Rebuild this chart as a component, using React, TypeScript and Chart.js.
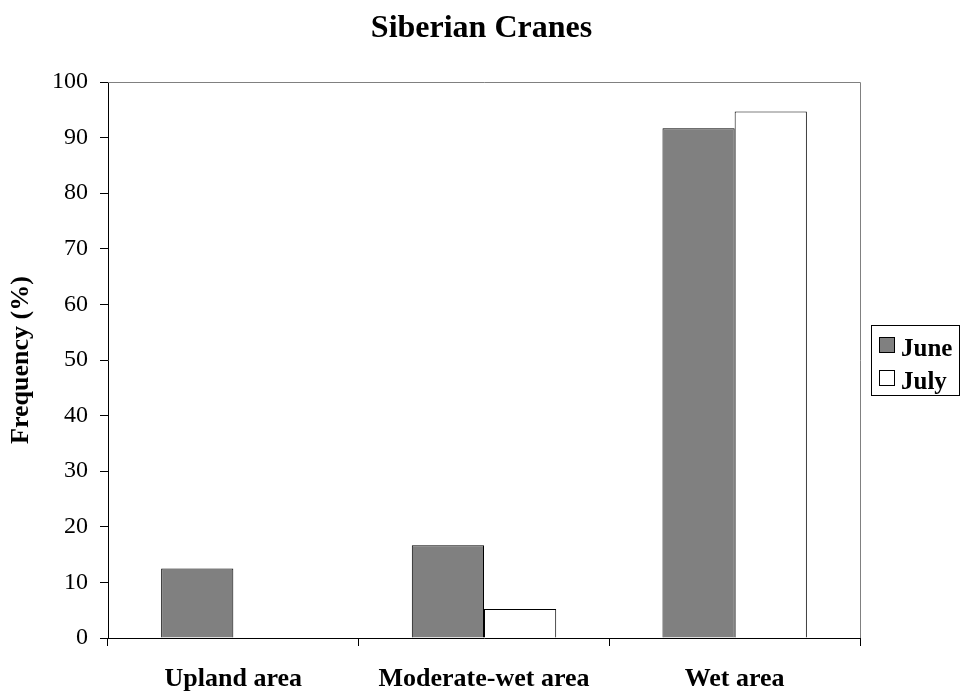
import React, { useEffect, useRef } from "react";
import { Chart, registerables } from "chart.js";

Chart.register(...registerables);

const categories = ["Upland area", "Moderate-wet area", "Wet area"];
const juneValues = [12.5, 16.7, 91.7];
const julyValues = [0, 5.2, 94.7];
const seriesNames = ["June", "July"];
const chartTitle = "Siberian Cranes";
const yMin = 0;
const yMax = 100;
const yStep = 10;

const SERIF = "'Liberation Serif', 'Times New Roman', serif";

const plotFrame = {
  id: "plotFrame",
  afterDatasetsDraw(chart: any) {
    const { ctx, chartArea } = chart;
    ctx.save();
    ctx.strokeStyle = "#808080";
    ctx.lineWidth = 1;
    ctx.beginPath();
    ctx.moveTo(chartArea.left, chartArea.top + 0.5);
    ctx.lineTo(chartArea.right + 0.5, chartArea.top + 0.5);
    ctx.lineTo(chartArea.right + 0.5, chartArea.bottom);
    ctx.stroke();
    ctx.restore();
  },
};

const pageTitle = {
  id: "pageTitle",
  afterDraw(chart: any) {
    const { ctx, width } = chart;
    ctx.save();
    ctx.font = `bold 32px ${SERIF}`;
    ctx.fillStyle = "#000";
    ctx.textAlign = "center";
    ctx.textBaseline = "alphabetic";
    ctx.fillText(chartTitle, width / 2, 37);
    ctx.restore();
  },
};

const boxLegend = {
  id: "boxLegend",
  afterDraw(chart: any) {
    const { ctx } = chart;
    const x = 871.5;
    const y = 325.5;
    const w = 88;
    const h = 70;
    ctx.save();
    ctx.fillStyle = "#fff";
    ctx.fillRect(x, y, w, h);
    ctx.strokeStyle = "#000";
    ctx.lineWidth = 1;
    ctx.strokeRect(x, y, w, h);
    ctx.font = `bold 25px ${SERIF}`;
    ctx.textBaseline = "alphabetic";
    ctx.textAlign = "left";
    chart.data.datasets.forEach((ds: any, i: number) => {
      const sy = 337.5 + i * 33;
      ctx.fillStyle = ds.backgroundColor;
      ctx.fillRect(879.5, sy, 15, 15);
      ctx.strokeStyle = "#000";
      ctx.strokeRect(879.5, sy, 15, 15);
      ctx.fillStyle = "#000";
      ctx.fillText(ds.label, 901, sy + 18);
    });
    ctx.restore();
  },
};

export default function App() {
  const canvasRef = useRef<HTMLCanvasElement | null>(null);

  useEffect(() => {
    document.body.style.margin = "0";
    const canvas = canvasRef.current;
    if (!canvas) return;
    const chart = new Chart(canvas, {
      type: "bar",
      data: {
        labels: categories,
        datasets: [
          {
            label: seriesNames[0],
            data: juneValues,
            backgroundColor: "#808080",
            borderColor: "#000",
            borderWidth: 1,
            categoryPercentage: 0.576,
            barPercentage: 1,
          },
          {
            label: seriesNames[1],
            data: julyValues,
            backgroundColor: "#ffffff",
            borderColor: "#000",
            borderWidth: 1,
            categoryPercentage: 0.576,
            barPercentage: 1,
          },
        ],
      },
      options: {
        responsive: false,
        animation: false,
        layout: { padding: { top: 82, right: 103, bottom: 0, left: 0 } },
        plugins: {
          legend: { display: false },
          tooltip: { enabled: false },
          title: { display: false },
        },
        scales: {
          x: {
            grid: {
              display: true,
              drawOnChartArea: false,
              drawTicks: true,
              tickLength: 8,
              color: "#000",
              offset: true,
            },
            border: { color: "#000", width: 1 },
            ticks: {
              color: "#000",
              font: { family: SERIF, size: 26, weight: "bold" },
              padding: 18,
              maxRotation: 0,
            },
            afterFit(scale: any) {
              scale.height = 54;
            },
          },
          y: {
            min: yMin,
            max: yMax,
            grid: {
              display: true,
              drawOnChartArea: false,
              drawTicks: true,
              tickLength: 8,
              color: "#000",
            },
            border: { color: "#000", width: 1 },
            ticks: {
              stepSize: yStep,
              color: "#000",
              font: { family: SERIF, size: 24 },
              padding: 12,
            },
            title: {
              display: true,
              text: "Frequency (%)",
              color: "#000",
              font: { family: SERIF, size: 26, weight: "bold" },
              padding: { top: 6, bottom: 0 },
            },
            afterFit(scale: any) {
              scale.width = 108;
            },
          },
        },
      },
      plugins: [plotFrame, pageTitle, boxLegend],
    });
    return () => chart.destroy();
  }, []);

  return (
    <div style={{ width: 963, height: 692, background: "#fff" }}>
      <canvas ref={canvasRef} width={963} height={692} />
    </div>
  );
}
